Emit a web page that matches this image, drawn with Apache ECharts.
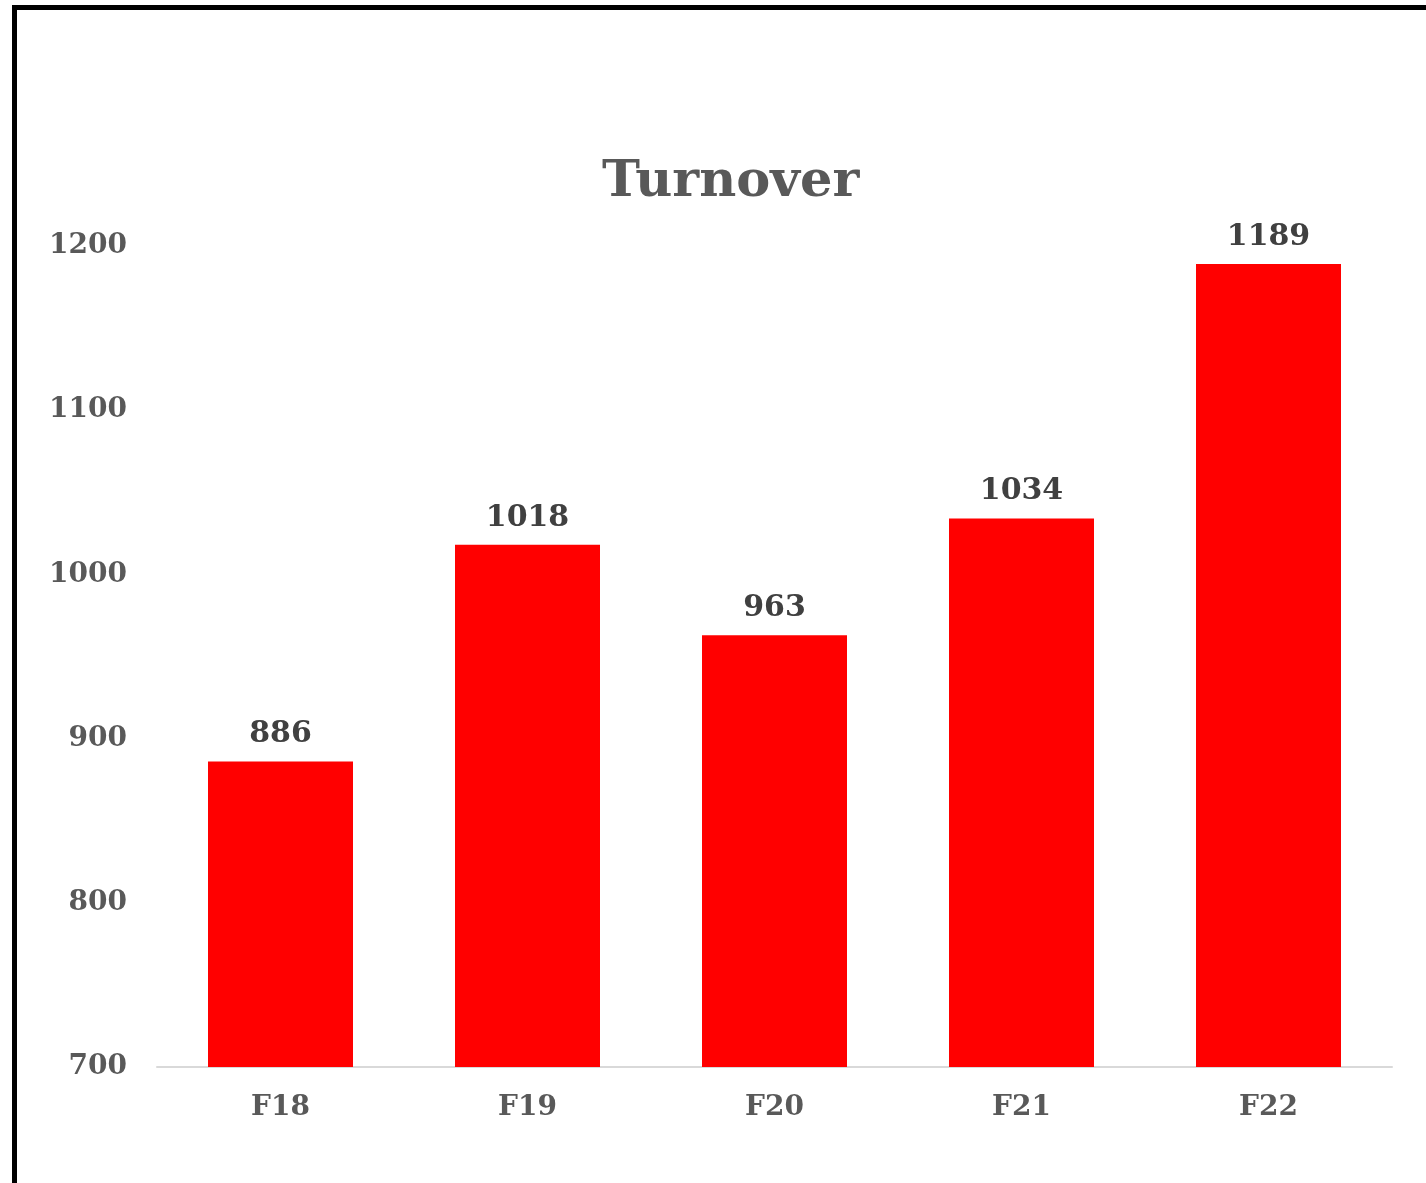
<!DOCTYPE html>
<html>
<head>
<meta charset="utf-8">
<script src="https://cdn.jsdelivr.net/npm/echarts@6/dist/echarts.min.js"></script>
<style>
  html, body { margin: 0; padding: 0; background: #fff; overflow: hidden; }
  #frame {
    position: absolute; left: 12px; top: 5px; width: 1500px; height: 1300px;
    border-left: 5px solid #000; border-top: 5px solid #000; box-sizing: border-box;
  }
  #chart { position: absolute; left: 0; top: 0; width: 1426px; height: 1183px; }
</style>
</head>
<body>
<div id="frame"></div>
<div id="chart"></div>
<script>
// Turnover per financial year
const years = ['F18', 'F19', 'F20', 'F21', 'F22'];
const turnover = [886, 1018, 963, 1034, 1189];
const yMin = 700;
const yMax = 1200;
const yStep = 100;

const FONT = "Georgia, 'DejaVu Serif', serif";

const chart = echarts.init(document.getElementById('chart'));
chart.setOption({
  backgroundColor: 'transparent',
  animation: false,
  title: {
    text: 'Turnover',
    left: 597,
    top: 152,
    textStyle: { fontFamily: FONT, fontSize: 51, fontWeight: 'bold', color: '#595959' },
  },
  grid: { left: 157, right: 34, top: 246, bottom: 116 },
  xAxis: {
    type: 'category',
    data: years,
    axisLine: { lineStyle: { color: '#d9d9d9', width: 2 } },
    axisTick: { show: false },
    axisLabel: {
      margin: 27,
      fontFamily: FONT, fontSize: 28, fontWeight: 'bold', color: '#595959',
    },
  },
  yAxis: {
    type: 'value',
    min: yMin,
    max: yMax,
    interval: yStep,
    splitLine: { show: false },
    axisLine: { show: false },
    axisTick: { show: false },
    axisLabel: {
      margin: 30,
      formatter: (v) => String(v),
      fontFamily: FONT, fontSize: 28, fontWeight: 'bold', color: '#595959',
    },
  },
  series: [
    {
      type: 'bar',
      data: turnover,
      barWidth: 145,
      itemStyle: { color: '#ff0000' },
      label: {
        show: true,
        position: 'top',
        distance: 12,
        fontFamily: FONT, fontSize: 30, fontWeight: 'bold', color: '#404040',
      },
    },
  ],
});
</script>
</body>
</html>
